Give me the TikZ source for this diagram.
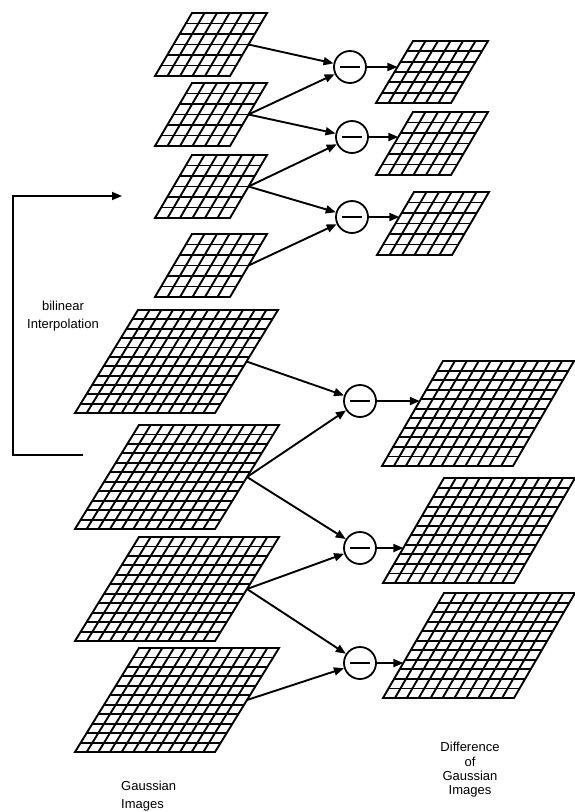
\documentclass[tikz,border=0pt]{standalone}
\usepackage{fontspec}
\setmainfont{Liberation Sans}
\usetikzlibrary{arrows.meta}
\tikzset{
  gridline/.style={line width=1.9pt, line join=miter},
  arr/.style={line width=1.9pt, -{Triangle[length=10pt,width=8pt]}},
  minuscirc/.style={circle, draw, line width=1.8pt, minimum size=32pt, inner sep=0pt},
  minusbar/.style={line width=2.3pt},
  lbl/.style={inner sep=0pt, font=\fontsize{13}{18}\selectfont}
}
% name, xtl, ytop, w, h, shear, ncols, nrows
\newcommand{\pargrid}[8]{%
  \foreach \i in {1,...,\numexpr#7-1\relax}{\draw[gridline] ({#2+#4*\i/#7},{#3}) -- ({#2+#4*\i/#7-#6},{#3+#5});}
  \foreach \j in {1,...,\numexpr#8-1\relax}{\draw[gridline] ({#2-#6*\j/#8},{#3+#5*\j/#8}) -- ({#2-#6*\j/#8+#4},{#3+#5*\j/#8});}
  \draw[gridline] (#2,#3) -- ({#2+#4},#3) -- ({#2+#4-#6},{#3+#5}) -- ({#2-#6},{#3+#5}) -- cycle;
  \coordinate (#1r) at ({#2+#4-#6/2},{#3+#5/2});
  \coordinate (#1tl) at (#2,#3);
  \coordinate (#1bl) at ({#2-#6},{#3+#5});
}
\newcommand{\minusin}[1]{\draw[minusbar] ([xshift=-10pt]#1.center) -- ([xshift=10pt]#1.center);}
\begin{document}
\begin{tikzpicture}[x=1pt,y=-1pt]
\useasboundingbox (0,0) rectangle (575,812);
% small Gaussian images
\pargrid{g1}{192}{13}{75}{63}{37}{6}{6}
\pargrid{g2}{192}{83}{75}{63}{37}{6}{6}
\pargrid{g3}{192}{155}{75}{63}{37}{6}{6}
\pargrid{g4}{192}{234}{75}{63}{37}{6}{6}
% small DoG images
\pargrid{d1}{413}{41}{75}{62}{37}{6}{6}
\pargrid{d2}{413}{112}{75}{63}{37}{6}{6}
\pargrid{d3}{414}{192}{75}{63}{37}{6}{6}
% large Gaussian images
\pargrid{l1}{138}{310}{140}{103}{63}{12}{11}
\pargrid{l2}{139}{425}{140}{104}{64}{12}{11}
\pargrid{l3}{139}{537}{140}{104}{64}{12}{11}
\pargrid{l4}{139}{648}{140}{104}{64}{12}{11}
% large DoG images
\pargrid{e1}{443}{361}{131}{105}{61}{11}{11}
\pargrid{e2}{444}{478}{131}{105}{61}{11}{11}
\pargrid{e3}{444}{593}{131}{105}{61}{11}{11}
% difference operators
\node[minuscirc] (c1) at (350,67) {};
\node[minuscirc] (c2) at (352,137) {};
\node[minuscirc] (c3) at (352,217) {};
\node[minuscirc] (c4) at (360,401) {};
\node[minuscirc] (c5) at (360,548) {};
\node[minuscirc] (c6) at (360,663) {};
\minusin{c1}\minusin{c2}\minusin{c3}\minusin{c4}\minusin{c5}\minusin{c6}
% connectors small
\draw[arr] (g1r) -- (c1);
\draw[arr] (g2r) -- (c1);
\draw[arr] (g2r) -- (c2);
\draw[arr] (g3r) -- (c2);
\draw[arr] (g3r) -- (c3);
\draw[arr] (g4r) -- (c3);
\draw[arr] (c1) -- (intersection of c1.center--c1.east and d1tl--d1bl);
\draw[arr] (c2) -- (intersection of c2.center--c2.east and d2tl--d2bl);
\draw[arr] (c3) -- (intersection of c3.center--c3.east and d3tl--d3bl);
% connectors large
\draw[arr] (l1r) -- (c4);
\draw[arr] (l2r) -- (c4);
\draw[arr] (l2r) -- (c5);
\draw[arr] (l3r) -- (c5);
\draw[arr] (l3r) -- (c6);
\draw[arr] (l4r) -- (c6);
\draw[arr] (c4) -- (intersection of c4.center--c4.east and e1tl--e1bl);
\draw[arr] (c5) -- (intersection of c5.center--c5.east and e2tl--e2bl);
\draw[arr] (c6) -- (intersection of c6.center--c6.east and e3tl--e3bl);
% bilinear interpolation bracket
\coordinate (brbot) at (83,455);
\coordinate (brtop) at (122,196);
\draw[arr, line width=1.6pt] (brbot) -- ++(-70,0) |- (brtop);
\node[lbl, align=center] (tbil) at (63,316) {bilinear\\Interpolation};
\node[lbl, align=left, anchor=west] (tgau) at (121,796) {Gaussian\\Images};
\node[lbl, align=center, font=\fontsize{13}{14.3}\selectfont] (tdog) at (470,770) {Difference\\of\\Gaussian\\Images};
\end{tikzpicture}
\end{document}
